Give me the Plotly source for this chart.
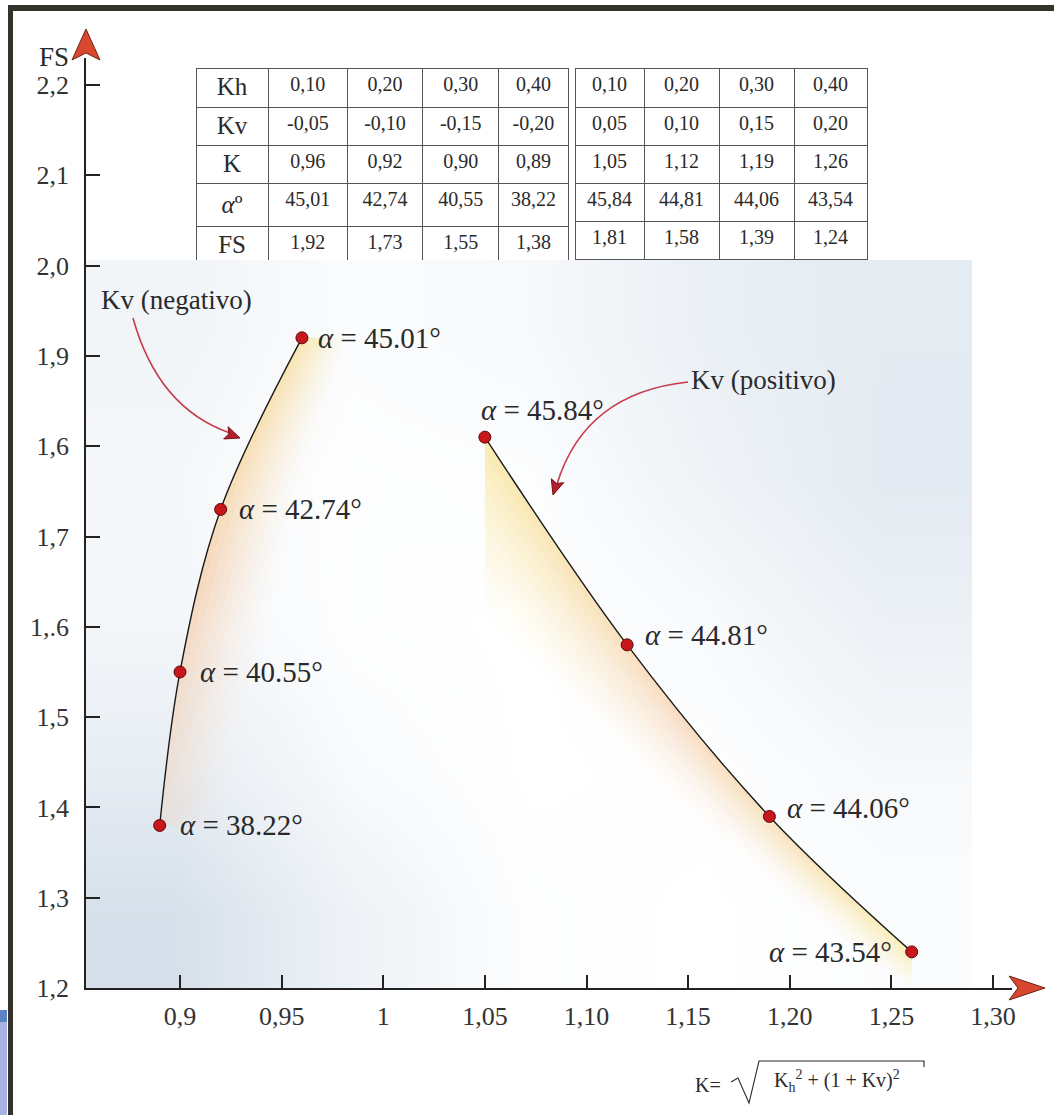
import plotly.graph_objects as go

W, H = 1054, 1115

# ---- data: seismic coefficients, resultant K, critical angle and safety factor
kh_neg = [0.10, 0.20, 0.30, 0.40]
kv_neg = [-0.05, -0.10, -0.15, -0.20]
k_neg = [0.96, 0.92, 0.90, 0.89]
alpha_neg = [45.01, 42.74, 40.55, 38.22]
fs_neg = [1.92, 1.73, 1.55, 1.38]

kh_pos = [0.10, 0.20, 0.30, 0.40]
kv_pos = [0.05, 0.10, 0.15, 0.20]
k_pos = [1.05, 1.12, 1.19, 1.26]
alpha_pos = [45.84, 44.81, 44.06, 43.54]
fs_pos = [1.81, 1.58, 1.39, 1.24]

row_labels = ["Kh", "Kv", "K", "<i>α</i>º", "FS"]

x_tickvals = [0.90, 0.95, 1.00, 1.05, 1.10, 1.15, 1.20, 1.25, 1.30]
x_ticktext = ["0,9", "0,95", "1", "1,05", "1,10", "1,15", "1,20", "1,25", "1,30"]
y_tickvals = [2.2, 2.1, 2.0, 1.9, 1.8, 1.7, 1.6, 1.5, 1.4, 1.3, 1.2]
y_ticktext = ["2,2", "2,1", "2,0", "1,9", "1,6", "1,7", "1,.6", "1,5", "1,4", "1,3", "1,2"]

SERIF = "Liberation Serif, Times New Roman, serif"
INK = "#2a2a2a"

# ---- axis geometry (pixel layout of the page)
X_PX_PER_UNIT = 2032.5
Y_PX_PER_UNIT = 903.0
AX_LEFT, AX_RIGHT, AX_BOTTOM, AX_TOP = 86, 1012, 988, 58
X_REF_PX, X_REF_VAL = 180, 0.90
x_range = [X_REF_VAL - (X_REF_PX - AX_LEFT) / X_PX_PER_UNIT,
           X_REF_VAL + (AX_RIGHT - X_REF_PX) / X_PX_PER_UNIT]
y_range = [1.2, 1.2 + (AX_BOTTOM - AX_TOP) / Y_PX_PER_UNIT]


def px(x):
    return x / W


def py(y):
    return 1 - y / H


def P(x, y):
    return f"{px(x):.5f},{py(y):.5f}"


def poly(pts):
    return "M " + " L ".join(P(*p) for p in pts) + " Z"


def fmt(v):
    return f"{v:.2f}".replace(".", ",")


fig = go.Figure()

# ---- soft blue haze behind the plotting area
haze_x0, haze_x1 = x_range[0], X_REF_VAL + (972 - X_REF_PX) / X_PX_PER_UNIT
haze_y0, haze_y1 = 1.2, 1.2 + (AX_BOTTOM - 260) / Y_PX_PER_UNIT
haze = [
    [0.90, 0.38, 0.05, 0.00, 0.08],
    [0.55, 0.15, 0.00, 0.04, 0.20],
    [0.25, 0.04, 0.00, 0.15, 0.42],
    [0.22, 0.03, 0.06, 0.35, 0.62],
    [0.30, 0.10, 0.18, 0.45, 0.60],
]
nx, ny = len(haze[0]), len(haze)
hx = [haze_x0 + (i + 0.5) * (haze_x1 - haze_x0) / nx for i in range(nx)]
hy = [haze_y0 + (j + 0.5) * (haze_y1 - haze_y0) / ny for j in range(ny)]
fig.add_trace(go.Heatmap(
    x=hx, y=hy, z=haze, zsmooth="best", showscale=False, hoverinfo="skip",
    zmin=0, zmax=1, colorscale=[[0, "#ffffff"], [1, "#d2dde8"]],
))

# ---- warm glow beside each curve (stacked bands, fading outwards)
N_BANDS = 10
band_alpha = [0.55 * (1 - k / N_BANDS) ** 1.4 for k in range(N_BANDS)]

neg_order = sorted(range(len(k_neg)), key=lambda i: fs_neg[i])
kn = [k_neg[i] for i in neg_order]
fn = [fs_neg[i] for i in neg_order]
neg_width = [0.030, 0.036, 0.036, 0.024]
fig.add_trace(go.Scatter(x=kn, y=fn, mode="lines", line=dict(width=0, shape="spline"),
                         hoverinfo="skip", showlegend=False))
for k in range(N_BANDS):
    a = band_alpha[k]
    f = (k + 1) / N_BANDS
    fig.add_trace(go.Scatter(
        x=[kv + f * w for kv, w in zip(kn, neg_width)], y=fn, mode="lines",
        line=dict(width=0, shape="spline"), fill="tonextx",
        fillgradient=dict(type="vertical", colorscale=[
            [0, f"rgba(246,205,175,{a * 0.55:.3f})"],
            [0.5, f"rgba(245,190,140,{a:.3f})"],
            [1, f"rgba(248,215,120,{a:.3f})"]]),
        hoverinfo="skip", showlegend=False))

pos_drop = [0.20, 0.12, 0.07, 0.045]
fig.add_trace(go.Scatter(x=k_pos, y=fs_pos, mode="lines", line=dict(width=0, shape="spline"),
                         hoverinfo="skip", showlegend=False))
for k in range(N_BANDS):
    a = band_alpha[k]
    f = (k + 1) / N_BANDS
    fig.add_trace(go.Scatter(
        x=k_pos, y=[v - f * d for v, d in zip(fs_pos, pos_drop)], mode="lines",
        line=dict(width=0, shape="spline"), fill="tonexty",
        fillgradient=dict(type="horizontal", colorscale=[
            [0, f"rgba(248,222,120,{a:.3f})"],
            [0.45, f"rgba(245,195,150,{a:.3f})"],
            [0.75, f"rgba(247,212,140,{a:.3f})"],
            [1, f"rgba(250,228,130,{a:.3f})"]]),
        hoverinfo="skip", showlegend=False))

# ---- the two FS–K curves
marker = dict(size=12, color="#c8161d", line=dict(color="#5a0808", width=1))
fig.add_trace(go.Scatter(x=kn, y=fn, mode="lines+markers",
                         line=dict(color="#1a1a1a", width=1.4, shape="spline"),
                         marker=marker, hoverinfo="skip", showlegend=False))
fig.add_trace(go.Scatter(x=k_pos, y=fs_pos, mode="lines+markers",
                         line=dict(color="#1a1a1a", width=1.4, shape="spline"),
                         marker=marker, hoverinfo="skip", showlegend=False))

# ---- data tables
cell_line = dict(color="#555555", width=1)


def table_columns(kh, kv, k, al, fs):
    return [[fmt(kh[i]), fmt(kv[i]), fmt(k[i]), fmt(al[i]), fmt(fs[i])] for i in range(len(kh))]


neg_cols = table_columns(kh_neg, kv_neg, k_neg, alpha_neg, fs_neg)
pos_cols = table_columns(kh_pos, kv_pos, k_pos, alpha_pos, fs_pos)

left_cols = [row_labels] + neg_cols
fig.add_trace(go.Table(
    domain=dict(x=[px(196), px(568)], y=[py(260), py(68)]),
    columnwidth=[72, 79, 75, 76, 69],
    header=dict(values=[c[0] for c in left_cols], height=39, align="center",
                fill_color="white", line=cell_line,
                font=dict(family=SERIF, size=[25, 20, 20, 20, 20], color=INK)),
    cells=dict(values=[c[1:] for c in left_cols], height=38, align="center",
               fill_color="white", line=cell_line,
               font=dict(family=SERIF, size=[25, 20, 20, 20, 20], color=INK)),
))
fig.add_trace(go.Table(
    domain=dict(x=[px(575), px(868)], y=[py(260), py(68)]),
    columnwidth=[69, 75, 75, 73],
    header=dict(values=[c[0] for c in pos_cols], height=39, align="center",
                fill_color="white", line=cell_line,
                font=dict(family=SERIF, size=20, color=INK)),
    cells=dict(values=[c[1:] for c in pos_cols], height=38, align="center",
               fill_color="white", line=cell_line,
               font=dict(family=SERIF, size=20, color=INK)),
))

# ---- annotations
ann = []
lab_font = dict(family=SERIF, size=29, color=INK)


def alpha_text(a):
    return f"<i>α</i> = {a:.2f}°"


neg_offsets = [(14, 0, "left"), (16, 0, "left"), (18, 0, "left"), (18, 0, "left")]
for k, f, a, (xs, ys, anc) in zip(k_neg, fs_neg, alpha_neg, neg_offsets):
    ann.append(dict(x=k, y=f, xref="x", yref="y", text=alpha_text(a),
                    xanchor=anc, yanchor="middle", xshift=xs, yshift=ys, font=lab_font))
pos_offsets = [(-6, 27, "left"), (16, 10, "left"), (16, 8, "left"), (-18, 0, "right")]
for k, f, a, (xs, ys, anc) in zip(k_pos, fs_pos, alpha_pos, pos_offsets):
    ann.append(dict(x=k, y=f, xref="x", yref="y", text=alpha_text(a),
                    xanchor=anc, yanchor="middle", xshift=xs, yshift=ys, font=lab_font))

formula_font = dict(family=SERIF, size=20, color=INK)
ann += [
    dict(x=px(54), y=py(57), text="FS", xanchor="center",
         font=dict(family=SERIF, size=27, color=INK)),
    dict(x=px(99), y=py(300), text="Kv (negativo)", xanchor="left",
         font=dict(family=SERIF, size=27, color=INK)),
    dict(x=px(689), y=py(380), text="Kv (positivo)", xanchor="left",
         font=dict(family=SERIF, size=27, color=INK)),
    dict(x=px(693), y=py(1085), text="K=", xanchor="left", font=formula_font),
    dict(x=px(772), y=py(1081),
         text="K<sub>h</sub><sup>2</sup> + (1 + Kv)<sup>2</sup>",
         xanchor="left", font=formula_font),
]
for a_ in ann:
    a_.setdefault("xref", "paper")
    a_.setdefault("yref", "paper")
    a_.setdefault("yanchor", "middle")
    a_["showarrow"] = False

# ---- shapes: frame, axis arrowheads, pointer arrows, radical sign
shapes = []
FRAME = "#35322b"
shapes.append(dict(type="rect", xref="paper", yref="paper", x0=px(8), x1=1, y0=py(11), y1=py(5),
                   fillcolor=FRAME, line=dict(width=0)))
shapes.append(dict(type="rect", xref="paper", yref="paper", x0=px(8), x1=px(13), y0=0, y1=py(5),
                   fillcolor=FRAME, line=dict(width=0)))
shapes.append(dict(type="rect", xref="paper", yref="paper", x0=0, x1=px(7), y0=py(1022), y1=py(1010),
                   fillcolor="#5c82c6", line=dict(width=0)))
shapes.append(dict(type="rect", xref="paper", yref="paper", x0=0, x1=px(7), y0=0, y1=py(1022),
                   fillcolor="#a9b1e2", line=dict(width=0)))

arrow_fill, arrow_edge = "#d9482e", "#6e2417"
shapes.append(dict(type="path", xref="paper", yref="paper",
                   path=poly([(86, 29), (100, 60), (86, 53), (72, 60)]),
                   fillcolor=arrow_fill, line=dict(color=arrow_edge, width=1)))
shapes.append(dict(type="path", xref="paper", yref="paper",
                   path=poly([(1045, 988), (1009, 976), (1018, 988), (1009, 1000)]),
                   fillcolor=arrow_fill, line=dict(color=arrow_edge, width=1)))


def curved_pointer(start, ctrl, end, tip):
    dx, dy = tip[0] - ctrl[0], tip[1] - ctrl[1]
    n = (dx * dx + dy * dy) ** 0.5
    ux, uy = dx / n, dy / n
    L, hw = 15, 6.5
    bx, by = tip[0] - L * ux, tip[1] - L * uy
    c1 = (bx - hw * uy, by + hw * ux)
    c2 = (bx + hw * uy, by - hw * ux)
    line = dict(type="path", xref="paper", yref="paper",
                path=f"M {P(*start)} Q {P(*ctrl)} {P(*end)}",
                line=dict(color="#c63b4a", width=1.6))
    head = dict(type="path", xref="paper", yref="paper",
                path=poly([tip, c1, (bx + 3 * ux, by + 3 * uy), c2]),
                fillcolor="#b2212c", line=dict(color="#7a1018", width=1))
    return [line, head]


shapes += curved_pointer((133, 318), (158, 408), (230, 433), (240, 438))
shapes += curved_pointer((688, 382), (585, 393), (557, 484), (553, 495))

shapes.append(dict(type="path", xref="paper", yref="paper",
                   path=f"M {P(731, 1082)} L {P(738, 1078)} L {P(749, 1103)} L {P(759, 1061)} "
                        f"L {P(924, 1061)} L {P(924, 1067)}",
                   line=dict(color=INK, width=1.1)))

axis_common = dict(showline=True, linecolor="#222222", linewidth=1.6, ticks="inside",
                   tickwidth=1.6, tickcolor="#222222", showgrid=False, zeroline=False,
                   automargin=False, fixedrange=True,
                   tickfont=dict(family=SERIF, size=26, color="#333333"))

fig.update_layout(
    width=W, height=H, autosize=False,
    margin=dict(l=0, r=0, t=0, b=0, pad=0),
    paper_bgcolor="white", plot_bgcolor="rgba(0,0,0,0)",
    showlegend=False,
    xaxis=dict(domain=[px(AX_LEFT), px(AX_RIGHT)], range=x_range,
               tickvals=x_tickvals, ticktext=x_ticktext, ticklen=13,
               ticklabelstandoff=4, **axis_common),
    yaxis=dict(domain=[py(AX_BOTTOM), py(AX_TOP)], range=y_range,
               tickvals=y_tickvals, ticktext=y_ticktext, ticklen=14,
               ticklabelstandoff=10, **axis_common),
    annotations=ann,
    shapes=shapes,
)

fig.write_html("out.html")
